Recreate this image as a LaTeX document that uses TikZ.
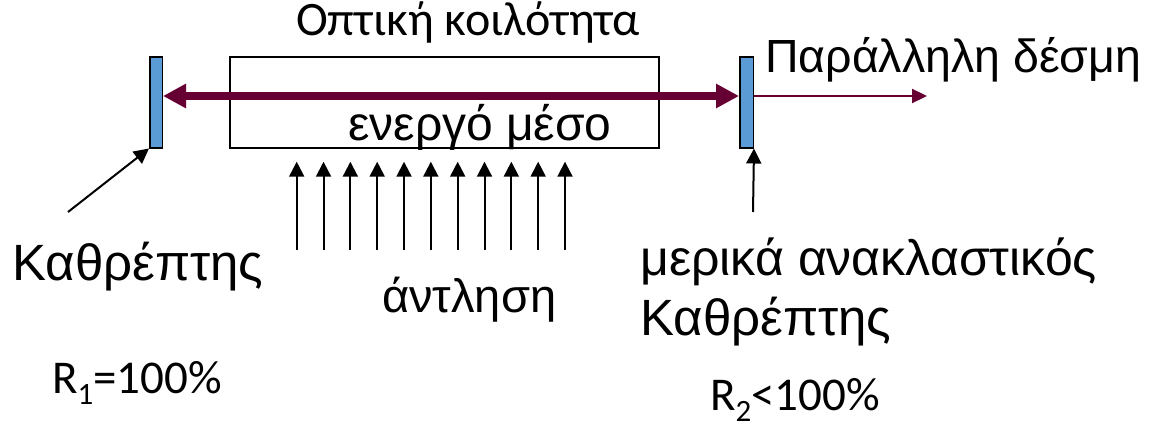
\documentclass[tikz,border=0pt]{standalone}
\usepackage{fontspec}
\setmainfont{Liberation Sans}
\newfontfamily\calfont{Carlito}
\usetikzlibrary{arrows.meta}
\definecolor{beamc}{HTML}{660033}
\definecolor{mirrorc}{HTML}{5B9BD5}
\tikzset{
  mirror/.style={draw=black, line width=1.5pt, fill=mirrorc, minimum width=12.5pt, minimum height=90.5pt, inner sep=0pt},
  cavity/.style={draw=black, line width=2pt, minimum width=429pt, minimum height=90.5pt, inner sep=0pt},
  beam/.style={draw=beamc, line width=8pt, {Triangle[length=23pt,width=23pt]}-{Triangle[length=23pt,width=23pt]}},
  outbeam/.style={draw=beamc, line width=2.2pt, -{Triangle[length=15pt,width=14pt]}},
  ptr/.style={draw=black, line width=2pt, -{Triangle[length=15pt,width=15pt]}},
  lab/.style={anchor=base west, inner sep=0pt},
}
\begin{document}
\begin{tikzpicture}[x=1pt,y=-1pt]
\path[use as bounding box] (0,0) rectangle (1153,428);
\node[cavity] (cav) at (444.5,102.5) {};
\node[mirror] (m1) at (156,102.5) {};
\node[mirror, minimum width=13.5pt] (m2) at (746.5,102.5) {};
\draw[beam] ([yshift=6.5pt]m1.east) -- ([yshift=6.5pt]m2.west);
\coordinate (out) at (927,96);
\draw[outbeam] ([yshift=6.5pt]m2.east) -- (out);
\coordinate (p1) at (68,212);
\draw[ptr] (p1) -- (m1.south west);
\coordinate (p2) at (753,212);
\draw[ptr] (p2) -- (m2.south east);
\foreach \i in {0,...,10} {
  \coordinate (pb\i) at (296.7+26.83*\i,250);
  \coordinate (pt\i) at (296.7+26.83*\i,161.7);
  \draw[ptr] (pb\i) -- (pt\i);
}
\node[lab, font=\calfont\fontsize{48}{52}\selectfont] (t1) at (296,36) {Οπτική κοιλότητα};
\node[lab, font=\fontsize{48}{52}\selectfont] (t2) at (348,140) {ενεργό μέσο};
\node[lab, font=\fontsize{46.5}{52}\selectfont] (t3) at (765,72) {Παράλληλη δέσμη};
\node[lab, font=\fontsize{51}{56}\selectfont] (t4) at (12,280) {Καθρέπτης};
\node[lab, font=\fontsize{47}{52}\selectfont] (t5) at (382,312) {άντληση};
\node[lab, font=\fontsize{50}{56}\selectfont] (t6) at (640,275) {μερικά ανακλαστικός};
\node[lab, font=\fontsize{51}{56}\selectfont] (t7) at (640,335) {Καθρέπτης};
\node[lab, font=\calfont\fontsize{47}{52}\selectfont] (t8) at (52,393) {R\raisebox{-0.25em}{\fontsize{31}{36}\selectfont 1}=100\%};
\node[lab, font=\calfont\fontsize{47}{52}\selectfont] (t9) at (710,410) {R\raisebox{-0.25em}{\fontsize{31}{36}\selectfont 2}<100\%};
\end{tikzpicture}
\end{document}
